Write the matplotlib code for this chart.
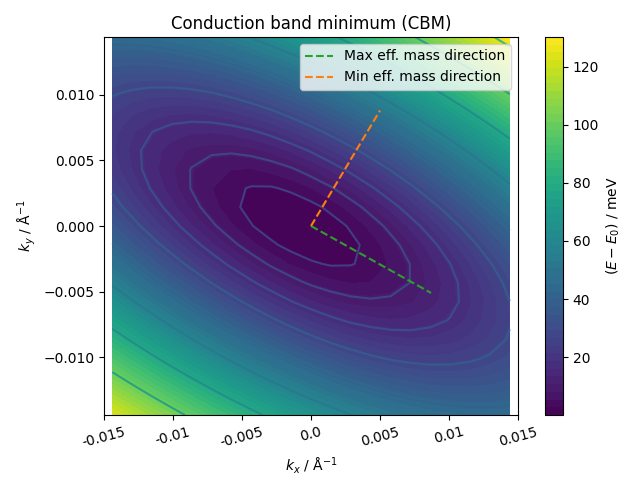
import numpy as np
import matplotlib
matplotlib.use("Agg")
import matplotlib.pyplot as plt

# ---- data ----
kx_range = [-0.0144, 0.0144]          # Å^-1
ky_range = [-0.0144, 0.0144]          # Å^-1
n_grid = 21
k_min = [-0.0008, 0.0]                # band minimum position (Å^-1)
curv_max_mass = 1.1e5                 # meV Å^2 along max-mass direction
curv_min_mass = 6.5e5                 # meV Å^2 along min-mass direction
nonparabolicity = 0.008               # 1/meV
angle_deg = -30.0                     # max-mass direction angle
line_levels = [2.8, 8.5, 16.5, 27, 41, 58, 78, 100, 125]   # meV
max_dir = [0.0087, -0.0051]
min_dir = [0.0050, 0.0088]
xtick_vals = [-0.015, -0.01, -0.005, 0.0, 0.005, 0.01, 0.015]
cbar_ticks = [20, 40, 60, 80, 100, 120]

# ---- energy surface on the k grid ----
kx = np.linspace(kx_range[0], kx_range[1], n_grid)
ky = np.linspace(ky_range[0], ky_range[1], n_grid)
KX, KY = np.meshgrid(kx, ky)
th = np.deg2rad(angle_deg)
dx = KX - k_min[0]
dy = KY - k_min[1]
u = dx * np.cos(th) + dy * np.sin(th)
v = -dx * np.sin(th) + dy * np.cos(th)
Q = curv_max_mass * u**2 + curv_min_mass * v**2
a = nonparabolicity
E = (np.sqrt(1 + 4 * a * Q) - 1) / (2 * a)

fig = plt.figure(figsize=(6.4, 4.8), dpi=100)
ax = fig.add_axes([104/640, 65/480, 414/640, 378/480])
cax = fig.add_axes([545/640, 65/480, 18/640, 378/480])

cf = ax.contourf(KX, KY, E, levels=np.linspace(E.min(), E.max(), 50), cmap="viridis")
cmap = plt.get_cmap("viridis")
Emax = E.max()
line_cols = [cmap(0.2 + 0.45 * L / Emax) for L in line_levels]
ax.contour(KX, KY, E, levels=line_levels, colors=line_cols, linewidths=1.5, alpha=0.85)

ax.plot([0, max_dir[0]], [0, max_dir[1]], "--", color="#2ca02c", label="Max eff. mass direction")
ax.plot([0, min_dir[0]], [0, min_dir[1]], "--", color="#ff7f0e", label="Min eff. mass direction")

ax.set_xlim(-0.015, 0.015)
ax.set_ylim(ky_range[0], ky_range[1])
ax.set_xticks(xtick_vals)
ax.set_xticklabels([str(t) for t in xtick_vals], rotation=15)
ax.set_xlabel(r"$k_x$ / Å$^{-1}$")
ax.set_ylabel(r"$k_y$ / Å$^{-1}$")
ax.set_title("Conduction band minimum (CBM)")
ax.legend(loc="upper right")

cb = fig.colorbar(cf, cax=cax, ticks=cbar_ticks)
cb.set_label(r"$(E - E_0)$ / meV")

fig.savefig("out.png", dpi=100)
